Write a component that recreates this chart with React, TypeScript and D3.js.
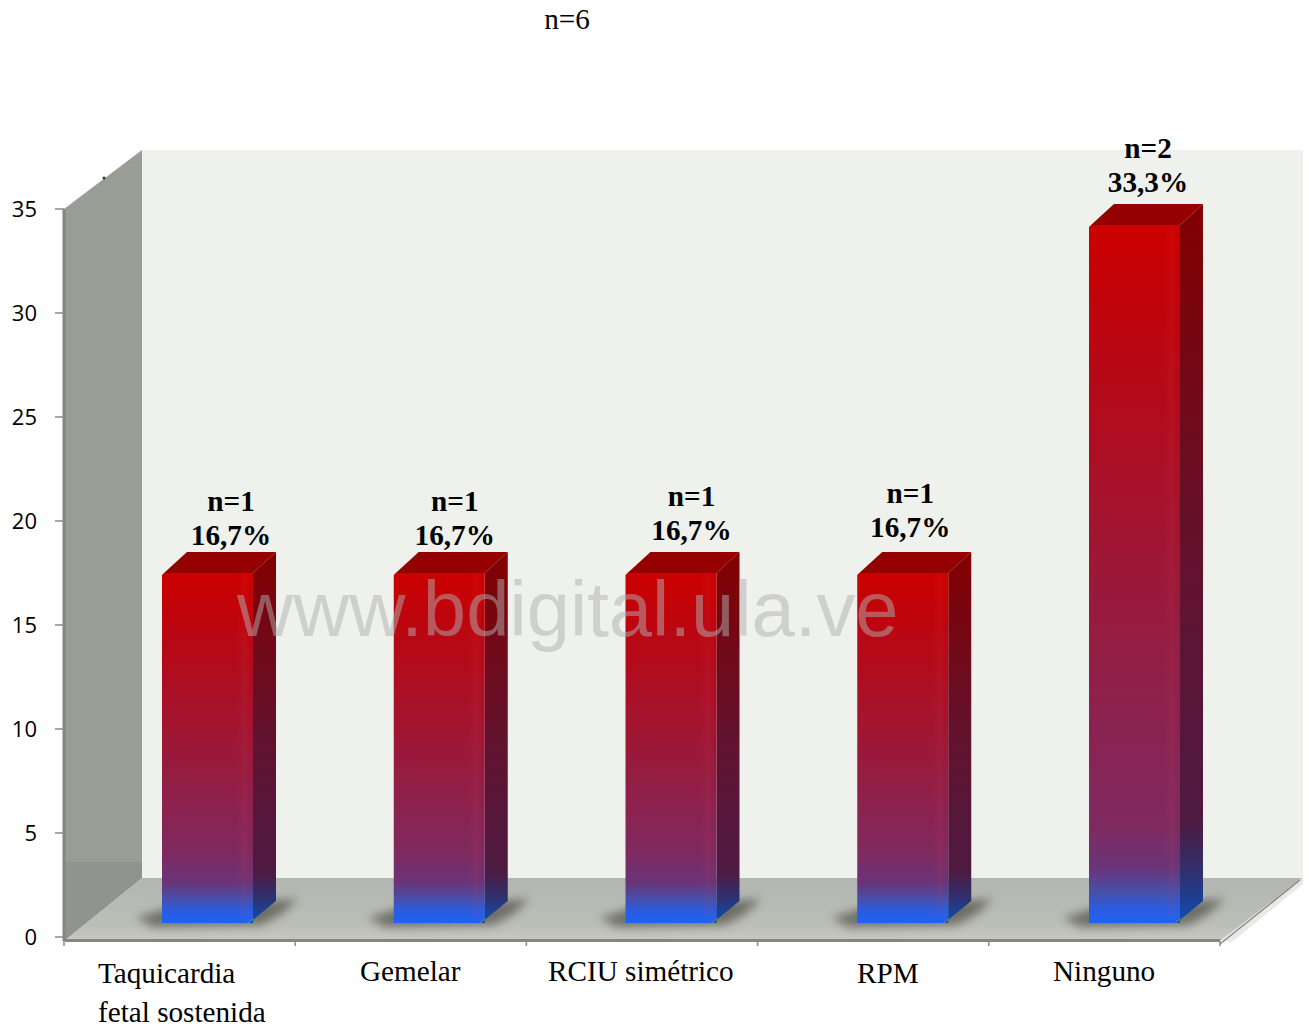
import React from "react";
import * as d3 from "d3";

// Embarazos por indicación: porcentaje y número de casos
const categories = ["Taquicardia fetal sostenida", "Gemelar", "RCIU simétrico", "RPM", "Ninguno"];
const percentages = [16.7, 16.7, 16.7, 16.7, 33.3];
const counts = [1, 1, 1, 1, 2];
const yTicks = [0, 5, 10, 15, 20, 25, 30, 35];
const categoryLines = [["Taquicardia", "fetal sostenida"], ["Gemelar"], ["RCIU simétrico"], ["RPM"], ["Ninguno"]];

const W = 1309;
const H = 1027;
const DEPTH_X = 78;
const DEPTH_Y = 63;
const BAR_DX = 23;
const BAR_DY = 21;
const BAR_W = 91;
const TEXT_SIZE = 29.2;

// Hand-set label placement, per category
const catLabelX = [98, 360, 548, 857, 1053];
const catLabelY = [983, 981, 981, 983, 981];
const valueLabelDx = [12, 4, 9, -4, 2];
const valueLabelDy = [-2, -2, -7, -10, -7];

const yAxis = d3.scaleLinear().domain([0, 35]).range([937, 209]);
const barY = d3.scaleLinear().domain([0, 35]).range([923, 189.4]);
const xBand = d3.scaleBand<string>().domain(categories).range([64.5, 1223.25]).padding(0);
const xTicks = d3.scaleLinear().domain([0, 5]).range([64, 1220]);

const poly = (pts: [number, number][]) => d3.line()(pts) + "Z";
const serif = "'Liberation Serif', serif";

function Bar({ i }: { i: number }) {
  const cat = categories[i];
  const x0 = (xBand(cat) as number) + 97.5;
  const x1 = x0 + BAR_W;
  const yT = barY(percentages[i]);
  const yB = barY(0);
  const cx = x0 + (BAR_W + BAR_DX) / 2 + valueLabelDx[i];
  const labelBase = yT - 26 + valueLabelDy[i];
  return (
    <g>
      <path
        d={poly([[x0 - 26, yB - 5], [x0 + 10, yB - 16], [x1 + BAR_DX + 22, yB - 24], [x1 + BAR_DX + 4, yB - 8], [x1 + 8, yB + 2], [x0 - 8, yB + 4]])}
        fill="#55554c"
        opacity={0.75}
        filter="url(#shadowBlur)"
      />
      <path d={poly([[x1, yT], [x1 + BAR_DX, yT - BAR_DY], [x1 + BAR_DX, yB - 22], [x1 - 4, yB], [x1, yB]])} fill={`url(#side${i})`} />
      <path d={poly([[x0 + 2, yT], [x0 + 25, yT - BAR_DY], [x1 + BAR_DX, yT - BAR_DY], [x1, yT]])} fill="#950000" />
      <path d={poly([[x0, yT + 2], [x0 + 2, yT], [x1, yT], [x1, yB - 5], [x1 - 5, yB], [x0, yB]])} fill={`url(#front${i})`} />
      <rect x={x1 - 16} y={yT} width={14} height={yB - yT - 6} fill="url(#sheen)" />
      <text x={cx} y={labelBase - 34} textAnchor="middle" fontFamily={serif} fontWeight="bold" fontSize={TEXT_SIZE} fill="#000">{`n=${counts[i]}`}</text>
      <text x={cx} y={labelBase} textAnchor="middle" fontFamily={serif} fontWeight="bold" fontSize={TEXT_SIZE} fill="#000">{`${String(percentages[i]).replace(".", ",")}%`}</text>
    </g>
  );
}

export default function App() {
  const y0 = 941;
  const backBottom = y0 - DEPTH_Y;
  return (
    <svg width={W} height={H} style={{ position: "absolute", left: 0, top: 0, background: "#fff" }}>
      <defs>
        <filter id="shadowBlur" x="-30%" y="-100%" width="160%" height="300%">
          <feGaussianBlur stdDeviation="5" />
        </filter>
        <linearGradient id="floorFill" x1="0" x2="0" y1="0" y2="1">
          <stop offset="0" stopColor="#b3b6b0" />
          <stop offset="0.75" stopColor="#bcbeb8" />
          <stop offset="1" stopColor="#c6c7c0" />
        </linearGradient>
        <linearGradient id="sheen" x1="0" x2="1" y1="0" y2="0">
          <stop offset="0" stopColor="#ff5050" stopOpacity={0} />
          <stop offset="0.55" stopColor="#ff5050" stopOpacity={0.07} />
          <stop offset="1" stopColor="#ff5050" stopOpacity={0} />
        </linearGradient>
        {categories.map((c, i) => {
          const tall = i === 4;
          return (
            <React.Fragment key={c}>
              <linearGradient id={`front${i}`} x1="0" x2="0" y1="0" y2="1">
                <stop offset="0" stopColor="#cc0000" />
                <stop offset="0.12" stopColor="#bf040c" />
                <stop offset="0.5" stopColor="#9c1838" />
                <stop offset={tall ? 0.86 : 0.8} stopColor="#7f2a60" />
                <stop offset={tall ? 0.92 : 0.885} stopColor="#6a3478" />
                <stop offset={tall ? 0.955 : 0.93} stopColor="#484ea8" />
                <stop offset={tall ? 0.98 : 0.965} stopColor="#2a5ce0" />
                <stop offset="1" stopColor="#1f62f5" />
              </linearGradient>
              <linearGradient id={`side${i}`} x1="0" x2="0" y1="0" y2="1">
                <stop offset="0" stopColor="#820000" />
                <stop offset="0.5" stopColor="#62122e" />
                <stop offset="0.86" stopColor="#4e1a42" />
                <stop offset="0.93" stopColor="#30306e" />
                <stop offset="1" stopColor="#0c4eb4" />
              </linearGradient>
            </React.Fragment>
          );
        })}
      </defs>

      <text x={567} y={29} textAnchor="middle" fontFamily={serif} fontSize={TEXT_SIZE} fill="#000">n=6</text>

      {/* Back wall, side wall and floor */}
      <rect x={64 + DEPTH_X} y={150} width={1303 - 64 - DEPTH_X} height={backBottom - 150} fill="#eff1ec" />
      <path d={poly([[64, 209], [64 + DEPTH_X, 150], [64 + DEPTH_X, backBottom], [64, y0]])} fill="#9a9c96" />
      <path d={poly([[64, 862], [64 + DEPTH_X, 862], [64 + DEPTH_X, backBottom], [64, y0]])} fill="#91938e" />
      <path d={poly([[64, y0], [64 + DEPTH_X, backBottom], [1303, backBottom], [1220, y0]])} fill="url(#floorFill)" />
      <path d={poly([[1220, y0], [1303, backBottom - 1], [1303, 884], [1232, y0 + 1]])} fill="#e4e5e1" opacity={0.8} />
      <line x1={1220} y1={y0 + 3} x2={1300} y2={backBottom + 2} stroke="#8a8a86" strokeWidth={1.5} />
      <line x1={65} y1={y0 - 0.5} x2={1220} y2={y0 - 0.5} stroke="#85867f" strokeWidth={3} />
      <line x1={64} y1={209} x2={64} y2={y0} stroke="#85867f" strokeWidth={3} />
      <circle cx={104} cy={178} r={1.5} fill="#333" />

      {/* Category ticks along the floor edge */}
      {d3.range(6).map((i) => (
        <line key={i} x1={xTicks(i)} x2={xTicks(i)} y1={y0} y2={y0 + 5} stroke="#8a8a86" strokeWidth={1.5} />
      ))}

      {/* Value axis */}
      {yTicks.map((t) => (
        <g key={t}>
          <line x1={55} x2={64} y1={yAxis(t)} y2={yAxis(t)} stroke="#8a8a86" strokeWidth={1.5} />
          <text x={37} y={yAxis(t) + 8} textAnchor="end" fontFamily="'Open Sans', sans-serif" fontSize={22} fill="#000">{t}</text>
        </g>
      ))}

      {categories.map((c, i) => <Bar key={c} i={i} />)}

      {categoryLines.map((lines, i) => (
        <text key={i} fontFamily={serif} fontSize={TEXT_SIZE} fill="#000">
          {lines.map((l, j) => (
            <tspan key={l} x={catLabelX[i]} y={catLabelY[i] + j * 39}>{l}</tspan>
          ))}
        </text>
      ))}

      <text x={237} y={636} fontFamily="'Liberation Sans', sans-serif" fontSize={77.8} fill="#b0b0b0" fillOpacity={0.5}>www.bdigital.ula.ve</text>
    </svg>
  );
}
